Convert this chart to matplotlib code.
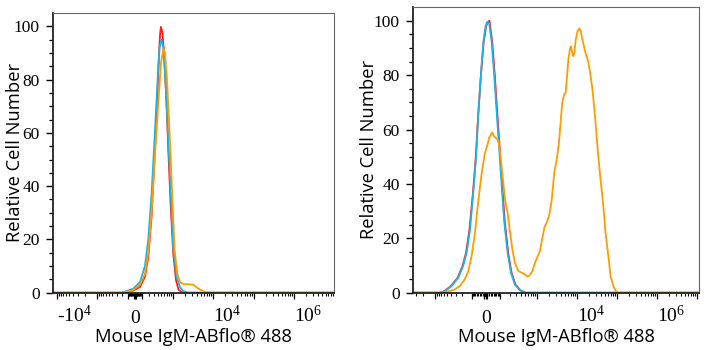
import numpy as np
import matplotlib
matplotlib.use('Agg')
import matplotlib.pyplot as plt

# x values are display channels (0-1024) on the biexponential axis of each panel
left_red_x = [0, 255, 291, 316, 334, 346, 358, 367, 377, 384, 389, 392, 397, 403, 411, 419, 428, 437, 447, 456, 468, 480, 1024]
left_red_y = [0, 0, 0.8, 2.2, 6, 13.5, 28.5, 47, 67, 87, 97, 99.8, 98, 91, 75, 53.5, 32, 14.8, 4.8, 1.2, 0.2, 0, 0]

left_cyan_x = [0, 249, 291, 316, 334, 346, 358, 370, 380, 387, 394, 401, 409, 419, 429, 437, 449, 462, 474, 492, 1024]
left_cyan_y = [0, 0, 1.5, 4, 10, 20, 37, 60, 80, 92, 95, 92, 78.5, 57, 35, 17, 6, 2, 0.6, 0, 0]

left_orange_x = [0, 255, 291, 316, 334, 346, 358, 370, 383, 392, 401, 407, 415, 425, 434, 442, 452, 462, 474,
                 492, 510, 528, 547, 565, 1024]
left_orange_y = [0, 0, 1, 3, 7, 15, 30, 51, 72, 86, 91.6, 90, 78.5, 57, 35, 16, 7, 4, 3.2,
                 3.2, 3, 1.6, 0.5, 0, 0]

right_red_x = [0, 94, 112, 135, 159, 177, 189, 201, 214, 224, 233, 243, 252, 261, 267, 273, 283, 292, 301, 309,
               319, 328, 340, 352, 366, 384, 402, 1024]
right_red_y = [0, 0, 0.6, 2.5, 5.5, 10, 14.7, 23, 37, 50, 66, 81, 92, 98, 99.5, 100, 92, 80, 66, 54,
               39, 26, 14.7, 7.4, 3, 0.9, 0, 0]

right_cyan_x = [0, 96, 114, 137, 161, 179, 191, 203, 215, 225, 233, 243, 251, 259, 265, 272, 281, 290, 299, 307,
                317, 326, 338, 350, 364, 382, 400, 1024]
right_cyan_y = [0, 0, 0.6, 2.5, 5.5, 10, 14.7, 23, 37, 50, 66, 81, 92, 98, 99.6, 99, 92, 80, 66, 54,
                39, 26, 14.7, 7.4, 3, 0.9, 0, 0]

right_orange_x = [0, 108, 131, 149, 167, 185, 197, 209, 221, 231, 239, 247, 257, 265, 272, 283, 290, 298, 305,
                  311, 319, 329, 338, 347, 355, 364, 376, 388, 400, 410, 418, 427, 436, 446, 454, 462, 470,
                  478, 486, 496, 505, 514, 522, 529, 534, 541, 546, 550, 556, 562, 565, 570, 573, 577, 582,
                  589, 595, 600, 606, 613, 619, 627, 634, 642, 649, 656, 663, 671, 681, 689, 699, 707, 717,
                  726, 735, 1024]
right_orange_y = [0, 0, 0.6, 1.2, 2.5, 5, 8, 13.5, 22, 32, 39, 45.4, 51.5, 54, 57, 58.9, 57.4, 56.7, 55.8,
                  51.5, 44, 34, 29.4, 22, 16, 11, 8, 7.4, 6.7, 5.9, 6.4, 8, 11, 13.5, 15.3, 20, 24,
                  25.8, 28, 34, 44, 49, 55, 64, 70, 73, 73.4, 78.5, 86, 90, 90.6, 88, 87, 88, 93,
                  96.3, 97.2, 96.3, 93, 90, 87.5, 85, 80.7, 74.8, 67.5, 59, 50, 41.7, 32, 22, 13.5, 6, 2.5,
                  0.6, 0, 0]

# axis labels shown on each panel (value -> label)
left_labels = {-1e4: r'$\mathregular{‐10^{4}}$', 0: '0', 1e4: r'$\mathregular{10^{4}}$', 1e6: r'$\mathregular{10^{6}}$'}
right_labels = {0: '0', 1e4: r'$\mathregular{10^{4}}$', 1e6: r'$\mathregular{10^{6}}$'}

RED = '#ff1a1a'
CYAN = '#1ab4e8'
ORANGE = '#ff9c00'

plt.rcParams['mathtext.fontset'] = 'custom'
plt.rcParams['mathtext.rm'] = 'Liberation Serif'


def biex(v, zero, dec, c):
    # value -> channel
    return zero + dec * np.arcsinh(np.asarray(v, dtype=float) / c) / np.log(10)


def setup_axis(ax, zero, dec, c, labels, ylab_x):
    ax.set_xlim(0, 1024)
    ax.set_ylim(0, 105)

    ax.tick_params(axis='x', which='major', direction='out', length=4.5, width=0.9, pad=17,
                   labelsize=14, labelfontfamily='Liberation Serif')
    ax.tick_params(axis='x', which='minor', direction='out', length=2.5, width=0.8)
    ax.tick_params(axis='y', which='major', direction='out', length=4.8, width=1.0, pad=5,
                   labelsize=12.5, labelfontfamily='Liberation Serif')
    ax.tick_params(axis='y', which='minor', direction='out', length=3, width=0.9)

    majors = [0.0] + [s * 10.0 ** n for n in range(1, 8) for s in (-1, 1)]
    minors = [s * k * 10.0 ** n for n in range(0, 7) for k in range(2, 10) for s in (-1, 1)]
    maj_pos = biex(majors, zero, dec, c)
    keep = (maj_pos >= 0) & (maj_pos <= 1024)
    maj_pos = maj_pos[keep]
    maj_vals = np.array(majors)[keep]
    min_pos = biex(minors, zero, dec, c)
    min_pos = min_pos[(min_pos >= 0) & (min_pos <= 1024)]

    texts = []
    for v in maj_vals:
        texts.append(labels.get(v, ''))
    ax.set_xticks(maj_pos, texts)
    ax.set_xticks(min_pos, minor=True)
    for lab, v in zip(ax.get_xticklabels(), maj_vals):
        lab.set_va('baseline')
        lab.set_ha('center' if v == 0 else 'left')

    ax.set_yticks([0, 20, 40, 60, 80, 100])
    ax.set_yticks(np.arange(0, 105, 5), minor=True)

    for side in ['top', 'right']:
        ax.spines[side].set_color('#666666')
        ax.spines[side].set_linewidth(0.8)
    for side in ['left', 'bottom']:
        ax.spines[side].set_color('#222222')
        ax.spines[side].set_linewidth(1.3)

    ax.set_xlabel('Mouse IgM-ABflo® 488', family='Open Sans', fontsize=13.2, labelpad=1)
    ax.set_ylabel('Relative Cell Number', family='Open Sans', fontsize=13.2)
    ax.yaxis.set_label_coords(ylab_x, 0.5)


fig = plt.figure(figsize=(7.07, 3.5), dpi=100)
ax1 = fig.add_axes([0.0754, 0.1637, 0.3975, 0.799])
ax2 = fig.add_axes([0.5846, 0.1637, 0.4041, 0.816])

ax1.plot(left_red_x, left_red_y, color=RED, lw=1.3)
ax1.plot(left_cyan_x, left_cyan_y, color=CYAN, lw=1.3)
ax1.plot(left_orange_x, left_orange_y, color=ORANGE, lw=1.3)
setup_axis(ax1, 298, 147.6, 238, left_labels, -0.106)

ax2.plot(right_red_x, right_red_y, color=RED, lw=1.3)
ax2.plot(right_cyan_x, right_cyan_y, color=CYAN, lw=1.3)
ax2.plot(right_orange_x, right_orange_y, color=ORANGE, lw=1.3)
setup_axis(ax2, 260, 144, 109, right_labels, -0.124)

fig.savefig('out.png', dpi=100)
